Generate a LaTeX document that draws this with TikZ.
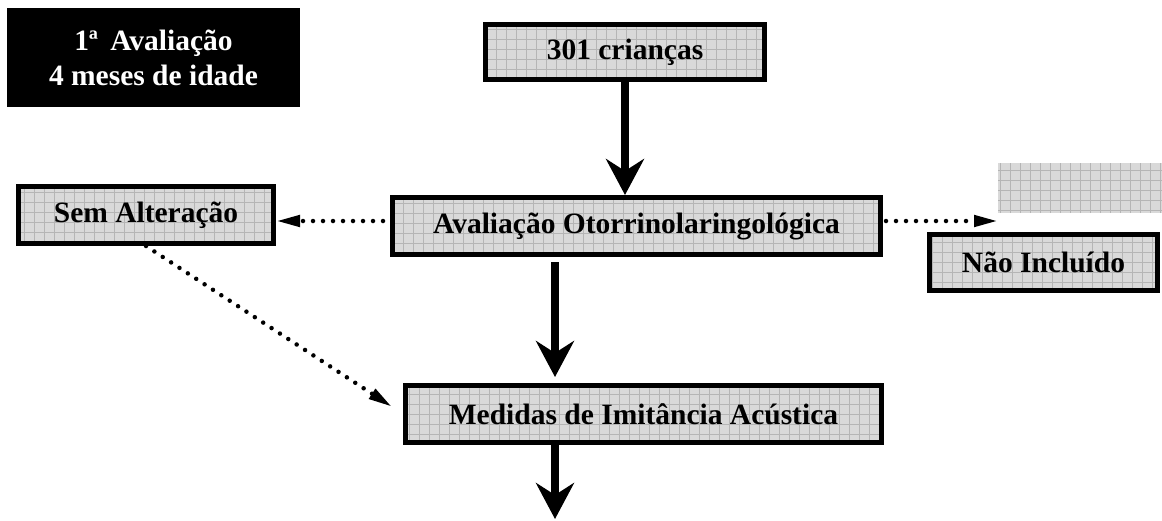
\documentclass[tikz,border=0pt]{standalone}
\usepackage{fontspec}
\setmainfont{Liberation Serif}
\usetikzlibrary{arrows.meta}
\tikzset{
  grade/.style={fill=gray!30,
    path picture={\draw[gray!58,line width=0.6pt] (path picture bounding box.south west) grid[step=10pt] (path picture bounding box.north east);}},
  caixa/.style={grade,draw=black,line width=5pt,inner sep=0pt,
    font=\fontsize{29.5}{35}\selectfont\bfseries},
  seta/.style={line width=8pt,-{Stealth[length=36pt,width=38pt,inset=12pt]}},
  pontos/.style={line width=4.5pt,line cap=round,dash pattern=on 0pt off 10pt,
    -{Triangle[length=24pt,width=11pt]}}
}
\begin{document}
\begin{tikzpicture}[x=1pt,y=-1pt]
    \useasboundingbox (0,0) rectangle (1162,520);
    \node[fill=black,text=white,align=center,minimum width=293pt,minimum height=99pt,
          font=\fontsize{29.5}{35}\selectfont\bfseries] (aval) at (153.5,57.5) {1ª\, Avaliação\\4 meses de idade};
    \node[caixa,minimum width=279pt,minimum height=55pt] (cri) at (625,52) {301 crianças};
    \node[caixa,minimum width=488pt,minimum height=57pt] (oto) at (636.5,226) {Avaliação Otorrinolaringológica};
    \node[caixa,minimum width=255pt,minimum height=57pt] (sem) at (146,215) {Sem Alteração};
    \node[caixa,minimum width=228pt,minimum height=56pt] (nao) at (1043.5,262.5) {Não Incluído};
    \node[caixa,minimum width=476pt,minimum height=57pt] (imi) at (643.5,414) {Medidas de Imitância Acústica};
    % faixa cinza sem borda
    \path[grade] (998,163) rectangle (1162,213);
    \coordinate (col) at (555,0);
    \coordinate (lin) at (0,221);
    \coordinate (fim) at (998,221);
    \coordinate (base) at (555,519);
    \draw[seta] (cri) -- (cri |- oto.north);
    \draw[seta,shorten <=5pt,shorten >=6pt] (oto.south -| col) -- (imi.north -| col);
    \draw[seta] (imi.south -| col) -- (base);
    \draw[pontos,shorten <=7pt] (oto.west |- lin) -- (sem.east |- lin);
    \draw[pontos,shorten <=3pt] (oto.east |- lin) -- (fim);
    \draw[pontos,shorten >=13pt] (sem.south) -- (imi.west);
\end{tikzpicture}
\end{document}
